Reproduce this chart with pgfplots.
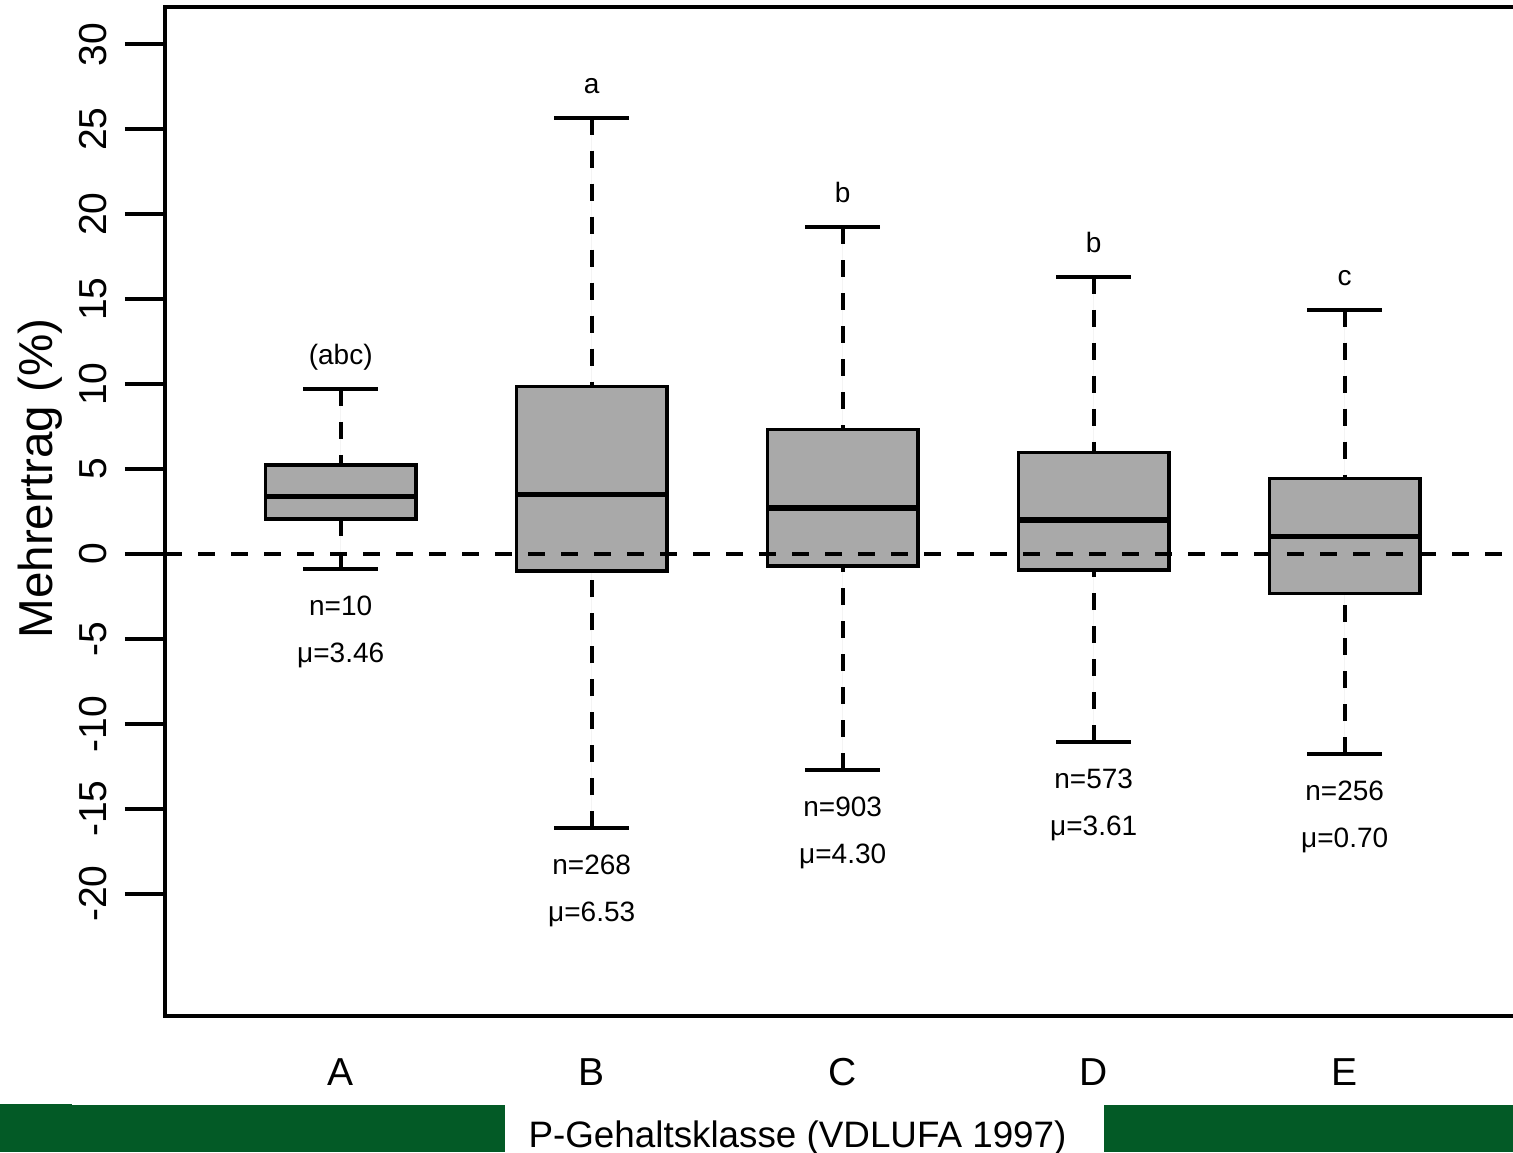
\documentclass[border=0pt]{standalone}
\usepackage{fontspec}
\setmainfont{Liberation Sans}
\usepackage{pgfplots}
\pgfplotsset{compat=1.18}
\usepgfplotslibrary{statistics}
\definecolor{boxgray}{HTML}{A9A9A9}
\definecolor{bargreen}{HTML}{035A26}
\newcommand{\mywhisker}[2]{%
  \draw[line width=1.9pt, dash pattern=on 8.5pt off 8pt]
    (boxplot whisker cs:\pgfkeysvalueof{/pgfplots/boxplot/#1},0.5) --
    (boxplot whisker cs:\pgfkeysvalueof{/pgfplots/boxplot/#2},0.5);
  \draw[line width=2pt]
    (boxplot whisker cs:\pgfkeysvalueof{/pgfplots/boxplot/#1},0) --
    (boxplot whisker cs:\pgfkeysvalueof{/pgfplots/boxplot/#1},1);
}
\pgfplotsset{
  /pgfplots/boxplot/draw direction=y,
  /pgfplots/boxplot/draw/lower whisker/.code={\mywhisker{lower whisker}{lower quartile}},
  /pgfplots/boxplot/draw/upper whisker/.code={\mywhisker{upper whisker}{upper quartile}},
  /pgfplots/boxplot/every median/.style={line width=2.6pt},
  /pgfplots/boxplot/every box/.style={line width=1.7pt, draw=black, fill=boxgray},
}
\pgfplotstableread{
x y label
1 11.16 (abc)
2 27.13 a
3 20.71 b
4 17.76 b
5 15.82 c
1 -3.62 n=10
2 -18.89 n=268
3 -15.47 n=903
4 -13.82 n=573
5 -14.53 n=256
1 -6.36 μ=3.46
2 -21.63 μ=6.53
3 -18.21 μ=4.30
4 -16.56 μ=3.61
5 -17.27 μ=0.70
}\annot
\begin{document}
\begin{tikzpicture}
\useasboundingbox (0,0) rectangle (756.5pt,576pt);
\clip (0,0) rectangle (756.5pt,576pt);
\fill[bargreen] (0,0) rectangle (252.5pt,23.5pt);
\fill[bargreen] (0,0) rectangle (36pt,24pt);
\fill[bargreen] (552pt,0) rectangle (756.5pt,23.5pt);
\node[anchor=base, font=\fontsize{18.4}{20}\selectfont, inner sep=0pt] at (398.75pt,2.5pt) {P-Gehaltsklasse (VDLUFA 1997)};
\node[rotate=90, anchor=base, font=\fontsize{23.8}{26}\selectfont, inner sep=0pt] at (26pt,336.75pt) {Mehrertrag (\%)};
\begin{axis}[
  at={(82.5pt,68pt)}, anchor=south west,
  scale only axis, width=677.7pt, height=504.5pt,
  xmin=0.3, xmax=5.7, ymin=-27.2, ymax=32.2,
  axis line style={line width=2pt},
  xtick={1,2,3,4,5}, xticklabels={A,B,C,D,E},
  ytick={-20,-15,-10,-5,0,5,10,15,20,25,30},
  tick align=outside, major tick length=20pt,
  ytick style={line width=2pt, black},
  xtick style={draw=none},
  yticklabel style={xshift=-9pt, rotate=90, anchor=base, font=\fontsize{19.5}{21}\selectfont},
  xticklabel style={yshift=-14.5pt, anchor=base, font=\fontsize{19.5}{21}\selectfont},
  /pgf/number format/assume math mode=true,
  clip=false,
]
\addplot[boxplot prepared={draw position=1, lower whisker=-0.88, lower quartile=2.06, median=3.36, upper quartile=5.24, upper whisker=9.72, box extend=0.6, whisker extend=0.3}, draw=black, fill=boxgray] coordinates {};
\addplot[boxplot prepared={draw position=2, lower whisker=-16.15, lower quartile=-1.00, median=3.48, upper quartile=9.86, upper whisker=25.69, box extend=0.6, whisker extend=0.3}, draw=black, fill=boxgray] coordinates {};
\addplot[boxplot prepared={draw position=3, lower whisker=-12.73, lower quartile=-0.71, median=2.71, upper quartile=7.31, upper whisker=19.23, box extend=0.6, whisker extend=0.3}, draw=black, fill=boxgray] coordinates {};
\addplot[boxplot prepared={draw position=4, lower whisker=-11.08, lower quartile=-0.94, median=2.00, upper quartile=5.97, upper whisker=16.31, box extend=0.6, whisker extend=0.3}, draw=black, fill=boxgray] coordinates {};
\addplot[boxplot prepared={draw position=5, lower whisker=-11.79, lower quartile=-2.32, median=1.02, upper quartile=4.46, upper whisker=14.38, box extend=0.6, whisker extend=0.3}, draw=black, fill=boxgray] coordinates {};
\addplot[black, line width=2pt, dash pattern=on 8.5pt off 8pt] coordinates {(0.3,0) (5.7,0)};
\addplot[only marks, mark=none, nodes near coords, point meta=explicit symbolic,
  every node near coord/.append style={anchor=base, inner sep=0pt, font=\fontsize{14}{16}\selectfont, black}]
  table[meta=label] {\annot};
\end{axis}
\end{tikzpicture}
\end{document}
